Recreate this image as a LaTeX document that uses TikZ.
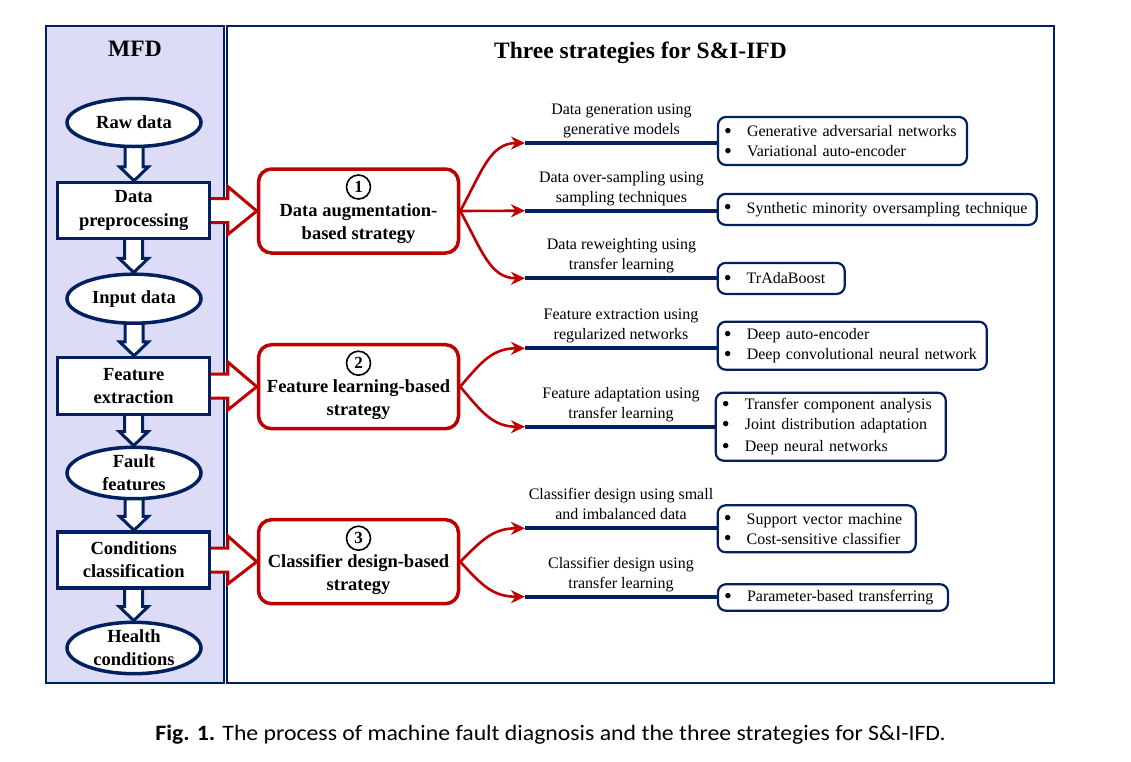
\documentclass[tikz,border=0pt]{standalone}
\usepackage{fontspec}
\setmainfont{Liberation Serif}
\newfontfamily\capfont{Carlito}
\usetikzlibrary{shapes.geometric,calc,arrows.meta}
\pgfdeclarelayer{back}\pgfdeclarelayer{mid}\pgfsetlayers{back,mid,main}
\definecolor{navy}{RGB}{0,32,96}
\definecolor{dred}{RGB}{192,0,0}
\definecolor{lav}{RGB}{221,220,247}
\tikzset{
  bfont/.style={font=\bfseries\fontsize{18.5}{23.3}\selectfont},
  rfont/.style={font=\fontsize{16}{20}\selectfont},
  ellnode/.style={ellipse, draw=navy, line width=3.5pt, fill=white, minimum width=134pt, minimum height=48pt, inner sep=0pt, bfont, align=center},
  procnode/.style={rectangle, draw=navy, line width=3.5pt, fill=white, minimum width=152pt, minimum height=56pt, inner sep=0pt, bfont, align=center},
  stratbox/.style={rectangle, rounded corners=13pt, draw=dred, line width=3.5pt, fill=white, minimum width=200pt, minimum height=84pt, inner sep=0pt},
  strattext/.style={bfont, align=center, inner sep=0pt},
  numcirc/.style={circle, draw=black, line width=1.6pt, inner sep=0pt, minimum size=24pt, font=\bfseries\fontsize{17}{17}\selectfont},
  listbox/.style={rectangle, rounded corners=8pt, draw=navy, line width=2.2pt, fill=white, inner xsep=7pt, inner ysep=0pt, align=left, rfont},
  lbl/.style={rfont, align=center, inner sep=0pt, anchor=south},
  downarr/.style={draw=navy, fill=white, line width=3pt, line join=miter},
  rightarr/.style={draw=dred, fill=white, line width=3pt, line join=miter},
  redcurve/.style={draw=dred, line width=2.6pt, -{Stealth[length=14pt,width=13pt]}},
  navyline/.style={draw=navy, line width=4pt},
}
\newcommand\hollowdown[2]{%
  \draw[downarr] let \p1=(#1.south), \p2=(#2.north) in
   (\x1-9pt,\y1+4pt) -- (\x1-9pt,\y2+14pt) -- (\x1-14.5pt,\y2+14pt) -- (\x1,\y2)
   -- (\x1+14.5pt,\y2+14pt) -- (\x1+9pt,\y2+14pt) -- (\x1+9pt,\y1+4pt) -- cycle;}
\newcommand\hollowright[2]{%
  \draw[rightarr] let \p1=(#1.east), \p2=(#2.west) in
   (\x1-4pt,\y1+12pt) -- (\x2-29pt,\y1+12pt) -- (\x2-29pt,\y1+24pt) -- (\x2,\y2)
   -- (\x2-29pt,\y1-24pt) -- (\x2-29pt,\y1-12pt) -- (\x1-4pt,\y1-12pt) -- cycle;}
\newcommand\bl{\makebox[6pt][c]{\raisebox{-1.6pt}[0pt][0pt]{\scalebox{1.4}{\textbullet}}}\hspace{16pt}}
\begin{document}
\begin{tikzpicture}[x=1pt,y=-1pt]
\useasboundingbox (0,0) rectangle (1131,761);
\begin{pgfonlayer}{back}
  \fill[white] (0,0) rectangle (1131,761);
  \draw[navy, line width=1.6pt, fill=lav] (46,26) rectangle (224,683);
  \draw[navy, line width=1.6pt] (227,26) rectangle (1054,683);
\end{pgfonlayer}

% titles
\node[font=\bfseries\fontsize{23.5}{26}\selectfont, anchor=base] (mfdtitle) at (135,56.7) {MFD};
\node[font=\bfseries\fontsize{23.5}{26}\selectfont, anchor=base] (sttitle) at (640.5,58) {Three strategies for S\&I-IFD};

% MFD column
\node[ellnode] (raw) at (134,122.5) {Raw data};
\node[procnode] (dp) at (133.7,210.5) {Data\\preprocessing};
\node[ellnode, minimum height=49pt] (inp) at (134,298.7) {Input data};
\node[procnode, minimum height=57pt] (fe) at (133.7,386) {Feature\\extraction};
\node[ellnode, minimum height=49.5pt] (ff) at (134,473) {Fault\\features};
\node[procnode] (cc) at (133.7,560) {Conditions\\classification};
\node[ellnode, minimum height=49.5pt] (hc) at (134,648) {Health\\conditions};

% strategy boxes
\node[stratbox] (s1) at (358.5,211) {};
\node[stratbox] (s2) at (358.5,386.7) {};
\node[stratbox] (s3) at (358.5,561.7) {};
\node[numcirc] (n1) at ($(s1.center)+(0,-24)$) {1};
\node[numcirc] (n2) at ($(s2.center)+(0,-23.5)$) {2};
\node[numcirc] (n3) at ($(s3.center)+(0,-23.5)$) {3};
\node[strattext] (t1) at ($(s1.center)+(0,12.6)$) {Data augmentation-\\based strategy};
\node[strattext] (t2) at ($(s2.center)+(0,12.6)$) {Feature learning-based\\strategy};
\node[strattext] (t3) at ($(s3.center)+(0,12.6)$) {Classifier design-based\\strategy};

\begin{pgfonlayer}{mid}
  \hollowdown{raw}{dp}
  \hollowdown{dp}{inp}
  \hollowdown{inp}{fe}
  \hollowdown{fe}{ff}
  \hollowdown{ff}{cc}
  \hollowdown{cc}{hc}
  \hollowright{dp}{s1}
  \hollowright{fe}{s2}
  \hollowright{cc}{s3}
\end{pgfonlayer}

% list boxes
\node[listbox, text width=235pt, minimum height=48pt] (b1) at (842.5,141) {\bl Generative adversarial networks\\\bl Variational auto-encoder};
\node[listbox, text width=305pt, minimum height=31pt] (b2) at (877.2,209.4) {\bl Synthetic minority oversampling technique};
\node[listbox, text width=113pt, minimum height=31pt] (b3) at (781.2,278.4) {\bl TrAdaBoost};
\node[listbox, text width=255pt, minimum height=48pt] (b4) at (852.3,345.7) {\bl Deep auto-encoder\\\bl Deep convolutional neural network};
\node[listbox, text width=216pt, minimum height=68pt] (b5) at (830.8,426.7) {\bl Transfer component analysis\\\bl Joint distribution adaptation\\[2.4pt]\bl Deep neural networks};
\node[listbox, text width=184pt, minimum height=47pt] (b6) at (816.7,528.8) {\bl Support vector machine\\\bl Cost-sensitive classifier};
\node[listbox, text width=216pt, minimum height=26.5pt] (b7) at (833,597.5) {\bl Parameter-based transferring};

% line start points
\coordinate (c1) at (525,143);
\coordinate (c2) at (525,210.7);
\coordinate (c3) at (525,278.3);
\coordinate (c4) at (525,348.3);
\coordinate (c5) at (525,426.7);
\coordinate (c6) at (525,528.3);
\coordinate (c7) at (525,596.7);

% navy lines
\foreach \i in {1,...,7} \draw[navyline] (c\i) -- (c\i -| b\i.west);

% red curves
\draw[redcurve] (s1.east) .. controls +(22,-40) and +(-35,0) .. (c1);
\draw[redcurve] (s1.east) -- (c2);
\draw[redcurve] (s1.east) .. controls +(22,40) and +(-35,0) .. (c3);
\draw[redcurve] (s2.east) .. controls +(22,-26) and +(-32,0) .. (c4);
\draw[redcurve] (s2.east) .. controls +(22,26) and +(-32,0) .. (c5);
\draw[redcurve] (s3.east) .. controls +(22,-22) and +(-32,0) .. (c6);
\draw[redcurve] (s3.east) .. controls +(22,24) and +(-32,0) .. (c7);

% labels
\node[lbl] (l1) at ($(c1)+(96.5,-2.3)$) {Data generation using\\generative models\strut};
\node[lbl] (l2) at ($(c2)+(96.5,-2.3)$) {Data over-sampling using\\sampling techniques\strut};
\node[lbl] (l3) at ($(c3)+(96.5,-2.3)$) {Data reweighting using\\transfer learning\strut};
\node[lbl] (l4) at ($(c4)+(96,-2.3)$) {Feature extraction using\\regularized networks\strut};
\node[lbl] (l5) at ($(c5)+(96,-2.3)$) {Feature adaptation using\\transfer learning\strut};
\node[lbl] (l6) at ($(c6)+(96,-2.3)$) {Classifier design using small\\and imbalanced data\strut};
\node[lbl] (l7) at ($(c7)+(96,-2.3)$) {Classifier design using\\transfer learning\strut};

% caption
\node[anchor=base, font=\capfont\fontsize{22}{26}\selectfont] (cap) at (550.5,740) {\scalebox{1.08}[1]{\textbf{Fig. 1.} The process of machine fault diagnosis and the three strategies for S\&I-IFD.}};
\end{tikzpicture}
\end{document}
